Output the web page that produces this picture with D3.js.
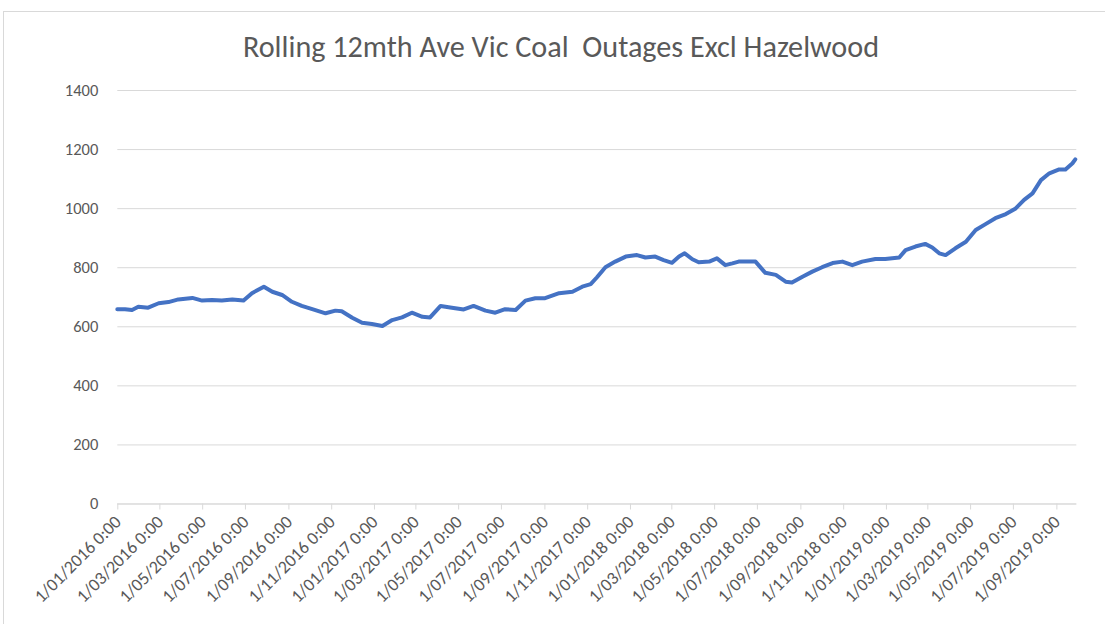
<!DOCTYPE html>
<html>
<head>
<meta charset="utf-8">
<script src="https://cdn.jsdelivr.net/npm/d3@7"></script>
<style>
body { margin:0; background:#fff; }
text { font-family: Calibri, Carlito, Lato, sans-serif; fill:#595959; }
</style>
</head>
<body>
<div id="vis"></div>
<script>
// Data
var dates = ["2016-01-01","2016-01-12","2016-01-22","2016-01-31","2016-02-14","2016-02-29","2016-03-14","2016-03-28",
	"2016-04-17","2016-05-01","2016-05-15","2016-05-29","2016-06-13","2016-06-29","2016-07-11","2016-07-28",
	"2016-08-09","2016-08-23","2016-09-06","2016-09-20","2016-10-05","2016-10-24","2016-11-07","2016-11-16",
	"2016-12-01","2016-12-15","2016-12-29","2017-01-13","2017-01-27","2017-02-10","2017-02-24","2017-03-11",
	"2017-03-22","2017-04-06","2017-04-22","2017-05-09","2017-05-23","2017-06-09","2017-06-23","2017-07-07",
	"2017-07-22","2017-08-05","2017-08-19","2017-09-02","2017-09-22","2017-10-11","2017-10-25","2017-11-06",
	"2017-11-15","2017-11-27","2017-12-11","2017-12-26","2018-01-11","2018-01-23","2018-02-06","2018-02-18",
	"2018-03-02","2018-03-12","2018-03-20","2018-03-31","2018-04-09","2018-04-24","2018-05-05","2018-05-17",
	"2018-05-27","2018-06-05","2018-06-15","2018-06-29","2018-07-13","2018-07-28","2018-08-11","2018-08-20",
	"2018-09-04","2018-09-18","2018-10-02","2018-10-17","2018-10-31","2018-11-14","2018-11-28","2018-12-17",
	"2018-12-31","2019-01-20","2019-01-29","2019-02-12","2019-02-26","2019-03-08","2019-03-18","2019-03-27",
	"2019-04-10","2019-04-25","2019-05-09","2019-05-23","2019-06-06","2019-06-21","2019-07-05","2019-07-17",
	"2019-07-29","2019-08-10","2019-08-22","2019-09-05","2019-09-14","2019-09-24","2019-09-28"];

var outages = [658,658,655,666,663,678,682,691,
	696,687,689,687,691,687,712,734,
	717,706,683,669,658,644,653,651,
	629,612,608,601,621,630,646,632,
	630,669,663,657,669,653,646,658,
	655,687,695,695,712,717,734,743,
	766,800,819,836,841,833,836,824,
	815,836,847,827,817,819,830,807,
	813,819,819,819,781,774,751,748,
	768,785,800,814,819,807,819,828,
	828,833,858,870,879,867,847,841,
	864,886,926,946,966,980,999,1028,
	1050,1095,1118,1131,1131,1152,1165];

var yTicks = [0, 200, 400, 600, 800, 1000, 1200, 1400];

var xTickLabels = ["1/01/2016 0:00","1/03/2016 0:00","1/05/2016 0:00","1/07/2016 0:00","1/09/2016 0:00","1/11/2016 0:00",
	"1/01/2017 0:00","1/03/2017 0:00","1/05/2017 0:00","1/07/2017 0:00","1/09/2017 0:00","1/11/2017 0:00",
	"1/01/2018 0:00","1/03/2018 0:00","1/05/2018 0:00","1/07/2018 0:00","1/09/2018 0:00","1/11/2018 0:00",
	"1/01/2019 0:00","1/03/2019 0:00","1/05/2019 0:00","1/07/2019 0:00","1/09/2019 0:00"];

var title = "Rolling 12mth Ave Vic Coal  Outages Excl Hazelwood";

// Layout Settings
var W = 1105, H = 624;
var plotLeft = 117.3, plotRight = 1075.3,
	plotTop = 90, plotBottom = 503.5;

var parseDate = d3.timeParse("%Y-%m-%d");
var parseTick = d3.timeParse("%d/%m/%Y %H:%M");

var data = dates.map(function(d, i) {
	return {date: parseDate(d), value: outages[i]};
});

var svg = d3.select("#vis")
			.append("svg")
			.attr("width", W)
			.attr("height", H);

// chart frame
svg.append("rect")
   .attr("x", 3.5)
   .attr("y", 11.5)
   .attr("width", W + 20)
   .attr("height", H + 20)
   .attr("fill", "#fff")
   .attr("stroke", "#d9d9d9");

var x = d3.scaleTime()
		  .domain(d3.extent(data, function(d) {return d.date;}))
		  .range([plotLeft, plotRight]);

var y = d3.scaleLinear()
		  .domain([0, 1400])
		  .range([plotBottom, plotTop]);

// title
svg.append("text")
   .attr("x", 561)
   .attr("y", 57)
   .attr("text-anchor", "middle")
   .style("font-size", "30.2px")
   .style("white-space", "pre")
   .text(title);

// gridlines + y labels
var yAxis = svg.append("g")
			   .attr("class", "y axis")
			   .attr("transform", "translate(" + plotLeft + ",0)")
			   .call(d3.axisLeft(y)
			   		.tickValues(yTicks)
			   		.tickFormat(d3.format("d"))
			   		.tickSize(-(plotRight + 1 - plotLeft))
			   		.tickPadding(19));

yAxis.select(".domain").remove();
yAxis.selectAll(".tick line")
	 .attr("stroke", "#d9d9d9");
yAxis.selectAll(".tick text")
	 .style("font-size", "16.5px")
	 .attr("fill", "#595959");

// x axis with dated ticks
var tickDates = xTickLabels.map(function(s) {return parseTick(s);});

var xAxis = svg.append("g")
			   .attr("class", "x axis")
			   .attr("transform", "translate(0," + plotBottom + ")")
			   .call(d3.axisBottom(x)
			   		.tickValues(tickDates)
			   		.tickSize(6)
			   		.tickSizeOuter(0)
			   		.tickFormat(function(d, i) {return xTickLabels[i];}));

xAxis.select(".domain")
	 .attr("stroke", "#d9d9d9")
	 .attr("d", "M" + plotLeft + ",0.5H" + (plotRight + 1));
xAxis.selectAll(".tick line")
	 .attr("stroke", "#d9d9d9");
xAxis.selectAll(".tick text")
	 .style("font-size", "18px")
	 .attr("fill", "#595959")
	 .attr("text-anchor", "end")
	 .attr("dy", "0.35em")
	 .attr("transform", "translate(0,15) rotate(-45)")
	 .attr("y", 0)
	 .attr("x", 0);

// the line
var line = d3.line()
			 .x(function(d) {return x(d.date);})
			 .y(function(d) {return y(d.value);});

svg.append("path")
   .datum(data)
   .attr("fill", "none")
   .attr("stroke", "#4472c4")
   .attr("stroke-width", 4)
   .attr("stroke-linejoin", "round")
   .attr("stroke-linecap", "round")
   .attr("d", line);
</script>
</body>
</html>
